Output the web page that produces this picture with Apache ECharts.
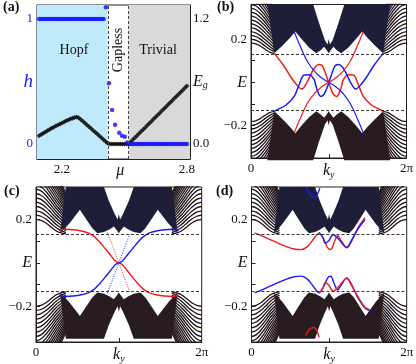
<!DOCTYPE html>
<html>
<head>
<meta charset="utf-8">
<script src="https://cdn.jsdelivr.net/npm/echarts@6/dist/echarts.min.js"></script>
<style>
html,body{margin:0;padding:0;background:#fff}
#chart{width:416px;height:364px}
</style>
</head>
<body>
<div id="chart"></div>
<script>
var serif = '"Liberation Serif","DejaVu Serif",serif';

// ---------- (a) h and E_g versus mu ----------
var muHopf = [2.09,2.10,2.11,2.12,2.13,2.14,2.15,2.16,2.17,2.18,2.19,2.20,2.21,2.22,2.23,2.24,2.25,2.26,2.27,2.28,2.29,2.30,2.31,2.32,2.33,2.34,2.35,2.36,2.37,2.38,2.39,2.40];
var hHopf  = [1,1,1,1,1,1,1,1,1,1,1,1,1,1,1,1,1,1,1,1,1,1,1,1,1,1,1,1,1,1,1,1];
var muGapless = [2.411,2.426,2.441,2.455,2.475,2.488,2.502,2.514];
var hGapless  = [1.094,0.486,0.272,0.155,0.09,0.066,0.058,0.012];
var muTrivial = [2.52,2.53,2.54,2.55,2.56,2.57,2.58,2.59,2.60,2.61,2.62,2.63,2.64,2.65,2.66,2.67,2.68,2.69,2.70,2.71,2.72,2.73,2.74,2.75,2.76,2.77,2.78,2.79,2.80];
var hTrivial  = [0,0,0,0,0,0,0,0,0,0,0,0,0,0,0,0,0,0,0,0,0,0,0,0,0,0,0,0,0];
var muGap = [2.09,2.10,2.11,2.12,2.13,2.14,2.15,2.16,2.17,2.18,2.19,2.20,2.21,2.22,2.23,2.24,2.25,2.26,2.27,2.28,2.29,2.30,2.31,2.32,2.33,2.34,2.35,2.36,2.37,2.38,2.39,2.40,2.41,2.42,2.43,2.44,2.45,2.46,2.47,2.48,2.49,2.50,2.51,2.52,2.53,2.54,2.55,2.56,2.57,2.58,2.59,2.60,2.61,2.62,2.63,2.64,2.65,2.66,2.67,2.68,2.69,2.70,2.71,2.72,2.73,2.74,2.75,2.76,2.77,2.78,2.79,2.80];
var gapE  = [0.078,0.092,0.104,0.116,0.128,0.139,0.150,0.161,0.172,0.182,0.192,0.202,0.212,0.222,0.231,0.240,0.248,0.255,0.260,0.252,0.236,0.219,0.201,0.183,0.165,0.148,0.130,0.112,0.095,0.077,0.059,0.041,0.023,0.006,0,0,0,0,0,0,0,0,0,0,0.020,0.040,0.060,0.080,0.100,0.119,0.139,0.159,0.179,0.199,0.219,0.239,0.259,0.279,0.298,0.318,0.338,0.358,0.378,0.398,0.418,0.438,0.458,0.477,0.497,0.517,0.537,0.557];
var phaseEdges = [2.42, 2.52];

// ---------- (b) spectrum ----------
var gapB = 0.133;
var fanKyB = [0, 0.06, 0.12, 0.18, 0.24, 0.30];
var fanB = [
  [0.181,0.178,0.168,0.153,0.140,0.134],
  [0.199,0.195,0.184,0.168,0.153,0.142],
  [0.217,0.212,0.200,0.183,0.166,0.150],
  [0.235,0.229,0.216,0.198,0.180,0.160],
  [0.253,0.247,0.233,0.214,0.194,0.172],
  [0.271,0.264,0.250,0.230,0.208,0.185],
  [0.289,0.282,0.267,0.246,0.222,0.198],
  [0.307,0.300,0.284,0.262,0.236,0.210],
  [0.325,0.318,0.301,0.278,0.250,0.222],
  [0.343,0.336,0.318,0.294,0.265,0.235],
  [0.361,0.354,0.336,0.310,0.280,0.250],
  [0.380,0.372,0.353,0.326,0.295,0.265],
  [0.398,0.390,0.370,0.342,0.310,0.280],
  [0.416,0.408,0.387,0.358,0.325,0.295],
  [0.434,0.426,0.404,0.374,0.340,0.310],
  [0.452,0.444,0.421,0.390,0.355,0.325],
  [0.470,0.462,0.438,0.406,0.370,0.340]
];
var bulkLowB = [[0.21,0.36],[0.30,0.134],[0.40,0.168],[0.50,0.205],[0.57,0.235],[0.65,0.20],[0.75,0.16],[0.84,0.134],[0.90,0.15],[0.94,0.164],[0.975,0.148],[1.0,0.134]];
var bulkNotchB = [[0.80,0.36],[0.87,0.28],[0.95,0.195],[0.985,0.175],[1.0,0.2]];
var redWaveB = [[0.30,0.134],[0.415,0.08],[0.523,0.019],[0.588,-0.011],[0.652,-0.031],[0.72,0.0],[0.78,0.045],[0.823,0.07],[0.87,0.082],[0.909,0.08],[0.96,0.04],[1.016,-0.019],[1.06,-0.055],[1.102,-0.065],[1.15,-0.035],[1.187,0.011],[1.25,0.035],[1.316,0.034],[1.38,-0.01],[1.444,-0.065],[1.55,-0.105],[1.659,-0.126],[1.70,-0.134]];
var blueWaveB = [[0.30,-0.134],[0.341,-0.126],[0.45,-0.105],[0.556,-0.065],[0.62,-0.01],[0.684,0.034],[0.75,0.035],[0.813,0.011],[0.85,-0.035],[0.898,-0.065],[0.94,-0.055],[0.984,-0.019],[1.04,0.04],[1.091,0.08],[1.13,0.082],[1.177,0.07],[1.22,0.045],[1.28,0.0],[1.348,-0.031],[1.412,-0.011],[1.477,0.019],[1.585,0.08],[1.70,0.134]];
var blueSteepB = [[0.557,0.233],[0.63,0.17],[0.72,0.1],[0.82,0.05],[0.91,0.02],[1.0,0],[1.09,-0.02],[1.18,-0.05],[1.28,-0.1],[1.37,-0.17],[1.443,-0.233]];
var redSteepB = [[0.557,-0.233],[0.63,-0.17],[0.72,-0.1],[0.82,-0.05],[0.91,-0.02],[1.0,0],[1.09,0.02],[1.18,0.05],[1.28,0.1],[1.37,0.17],[1.443,0.233]];

// ---------- (c) spectrum ----------
var gapC = 0.133;
var fanKyC = [0, 0.06, 0.12, 0.18, 0.24, 0.30, 0.36];
var fanC = [
  [0.200,0.196,0.184,0.166,0.148,0.138,0.134],
  [0.220,0.215,0.202,0.183,0.163,0.150,0.140],
  [0.240,0.234,0.220,0.200,0.178,0.162,0.148],
  [0.260,0.254,0.238,0.216,0.193,0.175,0.158],
  [0.280,0.273,0.256,0.233,0.208,0.188,0.168],
  [0.300,0.293,0.275,0.250,0.223,0.201,0.179],
  [0.320,0.312,0.293,0.266,0.238,0.214,0.190],
  [0.340,0.332,0.311,0.283,0.253,0.227,0.201],
  [0.360,0.351,0.329,0.300,0.268,0.240,0.212],
  [0.380,0.371,0.348,0.316,0.283,0.253,0.223],
  [0.400,0.390,0.366,0.333,0.298,0.266,0.234],
  [0.420,0.410,0.384,0.350,0.313,0.279,0.245],
  [0.440,0.429,0.402,0.366,0.328,0.292,0.256],
  [0.460,0.449,0.421,0.383,0.343,0.305,0.267],
  [0.480,0.468,0.439,0.400,0.358,0.318,0.278],
  [0.500,0.488,0.457,0.416,0.373,0.331,0.289],
  [0.520,0.507,0.475,0.432,0.388,0.344,0.300],
  [0.540,0.527,0.494,0.449,0.403,0.357,0.311],
  [0.560,0.546,0.512,0.466,0.418,0.370,0.322]
];
var bulkLowC = [[0.36,0.35],[0.29,0.137],[0.40,0.18],[0.47,0.215],[0.53,0.245],[0.60,0.205],[0.68,0.16],[0.74,0.137],[0.82,0.142],[0.89,0.155],[0.94,0.168],[0.975,0.15],[1.0,0.137]];
var bulkNotchC = [[0.82,0.35],[0.88,0.285],[0.95,0.225],[0.985,0.2],[1.0,0.225]];
var redC = [[0.28,0.149],[0.35,0.155],[0.45,0.153],[0.55,0.147],[0.63,0.138],[0.70,0.122],[0.76,0.1],[0.83,0.068],[0.9,0.035],[0.96,0.007],[1.0,0],[1.04,-0.007],[1.1,-0.035],[1.17,-0.068],[1.24,-0.1],[1.30,-0.122],[1.37,-0.138],[1.45,-0.147],[1.55,-0.153],[1.65,-0.155],[1.72,-0.149]];
var blueC = [[0.28,-0.149],[0.35,-0.155],[0.45,-0.153],[0.55,-0.147],[0.63,-0.138],[0.70,-0.122],[0.76,-0.1],[0.83,-0.068],[0.9,-0.035],[0.96,-0.007],[1.0,0],[1.04,0.007],[1.1,0.035],[1.17,0.068],[1.24,0.1],[1.30,0.122],[1.37,0.138],[1.45,0.147],[1.55,0.153],[1.65,0.155],[1.72,0.149]];
var redDotC = [[0.86,0.14],[0.93,0.072],[1.0,0],[1.07,-0.072],[1.14,-0.14]];
var blueDotC = [[0.86,-0.14],[0.93,-0.072],[1.0,0],[1.07,0.072],[1.14,0.14]];

// ---------- (d) spectrum ----------
var gapD = 0.133;
var redUpD = [[0.04,0.138],[0.15,0.122],[0.30,0.098],[0.45,0.075],[0.55,0.064],[0.64,0.061],[0.72,0.075],[0.80,0.11],[0.87,0.137],[0.93,0.11],[0.98,0.07],[1.02,0.062],[1.07,0.1],[1.11,0.125],[1.16,0.1],[1.227,0.069],[1.29,0.1],[1.37,0.16],[1.463,0.208]];
var blueUpD = [[0.87,0.14],[0.92,0.118],[0.947,0.092],[0.99,0.1],[1.054,0.131],[1.12,0.11],[1.227,0.072],[1.29,0.105],[1.37,0.155],[1.463,0.2]];
var blueLowD = [[0.04,-0.138],[0.15,-0.122],[0.30,-0.098],[0.45,-0.075],[0.55,-0.064],[0.64,-0.061],[0.72,-0.075],[0.80,-0.11],[0.87,-0.137],[0.93,-0.11],[0.98,-0.07],[1.02,-0.062],[1.07,-0.1],[1.11,-0.125],[1.16,-0.1],[1.227,-0.069],[1.29,-0.1],[1.37,-0.16],[1.463,-0.208],[1.52,-0.22]];
var redLowD = [[0.87,-0.14],[0.92,-0.118],[0.947,-0.092],[0.99,-0.1],[1.054,-0.131],[1.12,-0.11],[1.227,-0.072],[1.29,-0.105],[1.37,-0.155],[1.463,-0.205],[1.53,-0.218]];
var blueHookD = [[0.70,0.35],[0.74,0.325],[0.78,0.305],[0.82,0.303],[0.86,0.325],[0.88,0.345]];
var redHookD = [[0.70,-0.335],[0.74,-0.31],[0.79,-0.298],[0.83,-0.305],[0.86,-0.33],[0.87,-0.345]];

var RED = '#f01c1c', BLUE = '#1c1cf2';
var BULK_UP = '#1f1e38', BULK_LOW = '#281b22';
var fanColors = ['#2e120a', '#0f1232', '#1a0d0a'];

function lineS(xi, yi, pts, color, w, dash, z) {
  return {
    type: 'line', xAxisIndex: xi, yAxisIndex: yi, data: pts,
    symbol: 'none', smooth: 0.35, silent: true, animation: false, z: z || 3,
    lineStyle: { color: color, width: w, type: dash || 'solid' }
  };
}

function fanSeries(xi, yi, kys, curves) {
  var out = [];
  curves.forEach(function (c, n) {
    [[1, 1], [1, -1], [-1, 1], [-1, -1]].forEach(function (m) {
      var pts = kys.map(function (k, j) { return [m[0] > 0 ? k : 2 - k, m[1] * c[j]]; });
      out.push(lineS(xi, yi, pts, fanColors[n % 3], 1.3, null, 1));
    });
  });
  return out;
}

function bandPoly(low, notch, sign) {
  var pts = low.slice();
  low.slice(0, -1).reverse().forEach(function (p) { pts.push([2 - p[0], p[1]]); });
  notch.slice(0, -1).forEach(function (p) { pts.push([2 - p[0], p[1]]); });
  pts.push(notch[notch.length - 1]);
  notch.slice(0, -1).reverse().forEach(function (p) { pts.push(p); });
  return pts.map(function (p) { return [p[0], sign * p[1]]; });
}

function polyS(xi, yi, pts, color) {
  return {
    type: 'custom', coordinateSystem: 'cartesian2d', xAxisIndex: xi, yAxisIndex: yi,
    data: [[1, 0]], silent: true, animation: false, z: 2,
    renderItem: function (params, api) {
      return { type: 'polygon', shape: { points: pts.map(function (p) { return api.coord(p); }) }, style: { fill: color } };
    }
  };
}

function gapLines(xi, yi, g) {
  return {
    type: 'line', xAxisIndex: xi, yAxisIndex: yi, data: [], silent: true, animation: false, z: 5,
    markLine: {
      symbol: 'none', silent: true, animation: false, label: { show: false },
      lineStyle: { color: '#222', type: [3, 2], width: 0.9 },
      data: [{ yAxis: g }, { yAxis: -g }]
    }
  };
}

function pair(xs, ys) { return xs.map(function (x, i) { return [x, ys[i]]; }); }

var labelFont = { fontFamily: serif, fontSize: 13, color: '#111' };
var rich = {
  i: { fontFamily: serif, fontStyle: 'italic', fontSize: 16, color: '#111' },
  s: { fontFamily: serif, fontStyle: 'italic', fontSize: 10, color: '#111', padding: [8, 0, 0, 0] },
  h: { fontFamily: serif, fontStyle: 'italic', fontSize: 19, color: '#2222ee' }
};

function kAxis(gi) {
  return {
    gridIndex: gi, type: 'value', min: 0, max: 2,
    axisLine: { show: true, onZero: false, lineStyle: { color: '#222', width: 1 } },
    axisTick: { show: true, inside: true, length: 4, customValues: [1], lineStyle: { color: '#222' } },
    splitLine: { show: false },
    axisLabel: Object.assign({}, labelFont, {
      margin: 4, customValues: [0, 1, 2], rich: rich,
      formatter: function (v) { return v === 0 ? '0' : (v === 2 ? '2π' : '{i|k}{s|y}'); }
    })
  };
}
function eAxis(gi, mn, mx) {
  return {
    gridIndex: gi, type: 'value', min: mn, max: mx,
    axisLine: { show: true, onZero: false, lineStyle: { color: '#222', width: 1 } },
    axisTick: { show: true, inside: true, length: 4, customValues: [-0.2, -0.1, 0, 0.1, 0.2], lineStyle: { color: '#222' } },
    splitLine: { show: false },
    axisLabel: Object.assign({}, labelFont, {
      margin: 4, customValues: [-0.2, 0, 0.2], rich: rich,
      formatter: function (v) { return v === 0 ? '{i|E}' : (v > 0 ? '0.2' : '\u22120.2'); }
    })
  };
}

var series = [];

// (a)
series.push({
  type: 'line', xAxisIndex: 0, yAxisIndex: 0, data: [], silent: true, animation: false, z: 0,
  markArea: {
    silent: true, animation: false, label: { show: false },
    data: [
      [{ xAxis: 2.0, itemStyle: { color: '#bfeafb' } }, { xAxis: phaseEdges[0] }],
      [{ xAxis: phaseEdges[1], itemStyle: { color: '#d9d9d9' } }, { xAxis: 2.9 }]
    ]
  },
  markLine: {
    symbol: 'none', silent: true, animation: false, label: { show: false },
    lineStyle: { color: '#444', type: [3, 2], width: 1 },
    data: [{ xAxis: phaseEdges[0] }, { xAxis: phaseEdges[1] }]
  }
});
series.push({
  type: 'scatter', xAxisIndex: 0, yAxisIndex: 1, data: pair(muGap, gapE),
  symbol: 'diamond', symbolSize: 5, itemStyle: { color: '#000' }, silent: true, animation: false, z: 3
});
[[muHopf, hHopf], [muGapless, hGapless], [muTrivial, hTrivial]].forEach(function (d) {
  series.push({
    type: 'scatter', xAxisIndex: 0, yAxisIndex: 0, data: pair(d[0], d[1]),
    symbol: 'circle', symbolSize: 4.5, itemStyle: { color: '#1010ff' }, silent: true, animation: false, z: 4
  });
});

// (b)
series = series.concat(fanSeries(1, 2, fanKyB, fanB));
series.push(polyS(1, 2, bandPoly(bulkLowB, bulkNotchB, 1), BULK_UP));
series.push(polyS(1, 2, bandPoly(bulkLowB, bulkNotchB, -1), BULK_LOW));
series.push(lineS(1, 2, redWaveB, RED, 1.5));
series.push(lineS(1, 2, blueWaveB, BLUE, 1.5));
series.push(lineS(1, 2, blueSteepB, BLUE, 1.2));
series.push(lineS(1, 2, redSteepB, RED, 1.2));
series.push(gapLines(1, 2, gapB));

// (c)
series = series.concat(fanSeries(2, 3, fanKyC, fanC));
series.push(polyS(2, 3, bandPoly(bulkLowC, bulkNotchC, 1), BULK_UP));
series.push(polyS(2, 3, bandPoly(bulkLowC, bulkNotchC, -1), BULK_LOW));
series.push(lineS(2, 3, redC, RED, 1.4));
series.push(lineS(2, 3, blueC, BLUE, 1.4));
series.push(lineS(2, 3, redDotC, RED, 1, [1, 1.5]));
series.push(lineS(2, 3, blueDotC, BLUE, 1, [1, 1.5]));
series.push(gapLines(2, 3, gapC));

// (d)
series = series.concat(fanSeries(3, 4, fanKyC, fanC));
series.push(polyS(3, 4, bandPoly(bulkLowC, bulkNotchC, 1), BULK_UP));
series.push(polyS(3, 4, bandPoly(bulkLowC, bulkNotchC, -1), BULK_LOW));
series.push(lineS(3, 4, redUpD, RED, 1.4));
series.push(lineS(3, 4, blueUpD, BLUE, 1.4));
series.push(lineS(3, 4, blueLowD, BLUE, 1.4));
series.push(lineS(3, 4, redLowD, RED, 1.4));
series.push(lineS(3, 4, blueHookD, BLUE, 1.4));
series.push(lineS(3, 4, redHookD, RED, 1.4));
series.push(gapLines(3, 4, gapD));

var gridBase = { show: true, borderColor: '#222', borderWidth: 1, containLabel: false, outerBoundsMode: 'none' };

var option = {
  animation: false,
  backgroundColor: '#fff',
  grid: [
    Object.assign({ left: 37, top: 5, width: 153, height: 154 }, gridBase),
    Object.assign({ left: 251, top: 4.5, width: 155.5, height: 153.5 }, gridBase),
    Object.assign({ left: 36, top: 187, width: 165.7, height: 155 }, gridBase),
    Object.assign({ left: 251.5, top: 187, width: 155.2, height: 155 }, gridBase)
  ],
  xAxis: [
    {
      gridIndex: 0, type: 'value', min: 2.08, max: 2.815,
      axisLine: { show: true, onZero: false, lineStyle: { color: '#222' } },
      axisTick: { show: true, inside: true, length: 4, customValues: [2.2, 2.8], lineStyle: { color: '#222' } },
      splitLine: { show: false },
      axisLabel: Object.assign({}, labelFont, {
        margin: 4, customValues: [2.2, 2.48, 2.8], rich: rich,
        formatter: function (v) { return v === 2.48 ? '{i|μ}' : v.toFixed(1); }
      })
    },
    kAxis(1), kAxis(2), kAxis(3)
  ],
  yAxis: [
    {
      gridIndex: 0, type: 'value', min: -0.12, max: 1.112, position: 'left',
      axisLine: { show: true, onZero: false, lineStyle: { color: '#2222ee', width: 1.2 } },
      axisTick: { show: true, inside: true, length: 5, customValues: [0, 0.5, 1], lineStyle: { color: '#2222ee' } },
      splitLine: { show: false },
      axisLabel: Object.assign({}, labelFont, {
        color: '#2222ee', margin: 4, customValues: [0, 0.5, 1], rich: rich,
        formatter: function (v) { return v === 0.5 ? '{h|h}' : String(v); }
      })
    },
    {
      gridIndex: 0, type: 'value', min: -0.144, max: 1.334, position: 'right',
      axisLine: { show: true, onZero: false, lineStyle: { color: '#222' } },
      axisTick: { show: true, inside: true, length: 4, customValues: [0, 0.3, 0.6, 0.9, 1.2], lineStyle: { color: '#222' } },
      splitLine: { show: false },
      axisLabel: Object.assign({}, labelFont, {
        margin: 3, customValues: [0, 0.6, 1.2], rich: rich,
        formatter: function (v) { return v === 0.6 ? '{i|E}{s|g}' : v.toFixed(1); }
      })
    },
    eAxis(1, -0.35, 0.36), eAxis(2, -0.365, 0.35), eAxis(3, -0.365, 0.35)
  ],
  graphic: [
    { type: 'text', left: 3, top: 0, style: { text: '(a)', font: 'bold 14px ' + serif, fill: '#111' } },
    { type: 'text', left: 217, top: 0, style: { text: '(b)', font: 'bold 14px ' + serif, fill: '#111' } },
    { type: 'text', left: 4, top: 184, style: { text: '(c)', font: 'bold 14px ' + serif, fill: '#111' } },
    { type: 'text', left: 216, top: 184, style: { text: '(d)', font: 'bold 14px ' + serif, fill: '#111' } },
    { type: 'text', x: 74, y: 50, style: { text: 'Hopf', font: '14px ' + serif, fill: '#111', align: 'center', verticalAlign: 'middle' }, z: 10 },
    { type: 'text', x: 158, y: 50, style: { text: 'Trivial', font: '14px ' + serif, fill: '#111', align: 'center', verticalAlign: 'middle' }, z: 10 },
    { type: 'text', x: 118, y: 50, rotation: Math.PI / 2, style: { text: 'Gapless', font: '14px ' + serif, fill: '#111', align: 'center', verticalAlign: 'middle' }, z: 10 }
  ],
  series: series
};

var chart = echarts.init(document.getElementById('chart'), null, { renderer: 'canvas' });
chart.setOption(option);
</script>
</body>
</html>
